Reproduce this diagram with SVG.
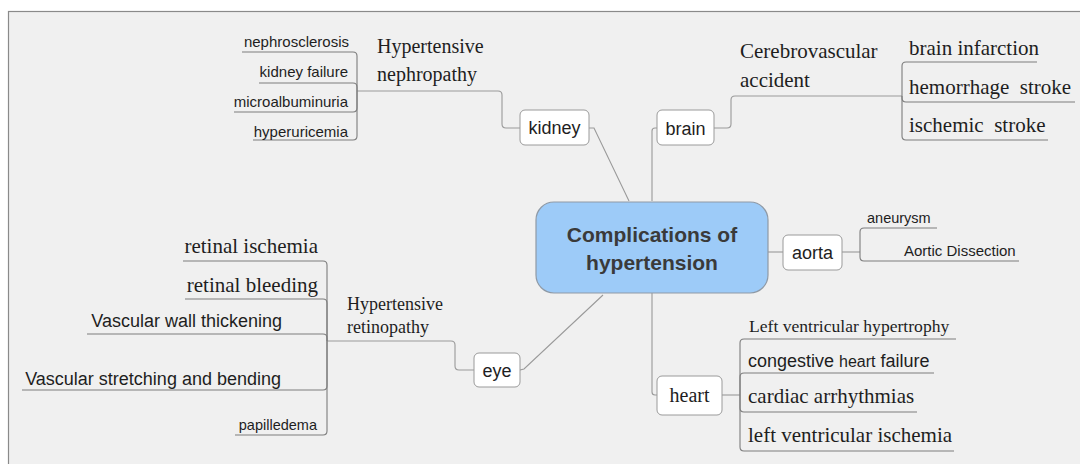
<svg xmlns="http://www.w3.org/2000/svg" width="1080" height="464" viewBox="0 0 1080 464">
  <style>
    .frame { fill: #f0f0f0; stroke: #8a8a8a; stroke-width: 1.2; }
    .box { fill: #ffffff; stroke: #9a9a9a; stroke-width: 1; }
    .root { fill: #9dcbf8; stroke: #8f9aa6; stroke-width: 1.2; }
    .link { fill: none; stroke: #9a9a9a; stroke-width: 1.1; }
    .under { fill: none; stroke: #7d7d7d; stroke-width: 1.1; }
    .sans { font-family: "Liberation Sans", Arial, sans-serif; fill: #1e1e1e; }
    .serif { font-family: "Liberation Serif", "Times New Roman", serif; fill: #1e1e1e; }
    .title { font-family: "Liberation Sans", Arial, sans-serif; font-weight: bold; font-size: 21px; fill: #3a3a3a; }
    .pre { white-space: pre; }
  </style>

  <!-- canvas -->
  <rect class="frame" x="8.5" y="11.5" width="1100" height="500"/>

  <!-- connectors -->
  <g id="connectors">
    <!-- root to main topics -->
    <path class="link" d="M589,128 H594 L629,201"/>
    <path class="link" d="M657,128 H655 Q652,128 652,131 V201"/>
    <path class="link" d="M768,252 H783"/>
    <path class="link" d="M652,292 V392 Q652,395 655,395 H657"/>
    <path class="link" d="M520,370 L524,369 L603,295"/>

    <!-- kidney branch -->
    <path class="link" d="M520,128 H506 Q502,128 502,124 V95 Q502,91 498,91 H357"/>
    <path class="under" d="M357,91 V56 Q357,52 353,52 H242"/>
    <path class="under" d="M357,91 V87 Q357,83 353,83 H259"/>
    <path class="under" d="M357,91 V108 Q357,112 353,112 H234"/>
    <path class="under" d="M357,91 V136 Q357,140 353,140 H253"/>

    <!-- brain branch -->
    <path class="link" d="M714,128 H727 Q731,128 731,124 V100 Q731,96 735,96 H902"/>
    <path class="under" d="M902,96 V66 Q902,62 906,62 H1037"/>
    <path class="under" d="M902,96 V98 Q902,102 906,102 H1075"/>
    <path class="under" d="M902,96 V136 Q902,140 906,140 H1048"/>

    <!-- aorta branch -->
    <path class="link" d="M842,252 H860"/>
    <path class="under" d="M860,252 V232 Q860,228 864,228 H937"/>
    <path class="under" d="M860,252 V257 Q860,261 864,261 H1019"/>

    <!-- heart branch -->
    <path class="link" d="M722,395 H740"/>
    <path class="under" d="M740,395 V343 Q740,339 744,339 H956"/>
    <path class="under" d="M740,395 V377 Q740,373 744,373 H934"/>
    <path class="under" d="M740,395 V408 Q740,412 744,412 H917"/>
    <path class="under" d="M740,395 V447 Q740,451 744,451 H954"/>

    <!-- eye branch -->
    <path class="link" d="M474,370 H459 Q455,370 455,366 V345 Q455,341 451,341 H327"/>
    <path class="under" d="M327,341 V265 Q327,261 323,261 H183"/>
    <path class="under" d="M327,341 V303 Q327,299 323,299 H185"/>
    <path class="under" d="M327,341 V338 Q327,334 323,334 H87"/>
    <path class="under" d="M327,341 V386 Q327,390 323,390 H22"/>
    <path class="under" d="M327,341 V431 Q327,435 323,435 H235"/>
  </g>

  <!-- central topic -->
  <g id="root">
    <rect class="root" x="536" y="202" width="232" height="91" rx="18"/>
    <text class="title" x="652" y="242" text-anchor="middle">Complications of</text>
    <text class="title" x="652" y="270" text-anchor="middle">hypertension</text>
  </g>

  <!-- kidney -->
  <g id="kidney">
    <rect class="box" x="520" y="110" width="69" height="35" rx="5"/>
    <text class="sans" x="554.5" y="134" font-size="18" text-anchor="middle">kidney</text>
  </g>
  <g id="kidney-nephropathy">
    <text class="serif" x="377" y="53" font-size="20">Hypertensive</text>
    <text class="serif" x="377" y="81" font-size="20">nephropathy</text>
  </g>
  <g id="kidney-items" class="sans" font-size="15" text-anchor="end">
    <text class="sans" x="349" y="47">nephrosclerosis</text>
    <text class="sans" x="348" y="77">kidney failure</text>
    <text class="sans" x="348" y="107">microalbuminuria</text>
    <text class="sans" x="348" y="137">hyperuricemia</text>
  </g>

  <!-- brain -->
  <g id="brain">
    <rect class="box" x="657" y="110" width="57" height="35" rx="5"/>
    <text class="sans" x="685.5" y="135" font-size="18" text-anchor="middle">brain</text>
  </g>
  <g id="brain-cva">
    <text class="serif" x="740" y="58" font-size="21">Cerebrovascular</text>
    <text class="serif" x="740" y="87" font-size="21">accident</text>
  </g>
  <g id="brain-items" font-size="21">
    <text class="serif" x="909" y="55">brain infarction</text>
    <text class="serif pre" x="909" y="94" xml:space="preserve">hemorrhage  stroke</text>
    <text class="serif pre" x="909" y="132" xml:space="preserve">ischemic  stroke</text>
  </g>

  <!-- aorta -->
  <g id="aorta">
    <rect class="box" x="783" y="235" width="59" height="35" rx="5"/>
    <text class="sans" x="812.5" y="259" font-size="18" text-anchor="middle">aorta</text>
  </g>
  <g id="aorta-items">
    <text class="sans" x="867" y="223" font-size="14.5">aneurysm</text>
    <text class="sans" x="904" y="256" font-size="15">Aortic Dissection</text>
  </g>

  <!-- heart -->
  <g id="heart">
    <rect class="box" x="657" y="376" width="65" height="39" rx="5"/>
    <text class="serif" x="689.5" y="402" font-size="20" text-anchor="middle">heart</text>
  </g>
  <g id="heart-items">
    <text class="serif" x="749" y="332" font-size="17.6">Left ventricular hypertrophy</text>
    <text class="sans" x="748" y="367" font-size="18">congestive <tspan font-size="16">heart</tspan> failure</text>
    <text class="serif" x="748" y="403" font-size="21">cardiac arrhythmias</text>
    <text class="serif" x="748" y="442" font-size="21">left ventricular ischemia</text>
  </g>

  <!-- eye -->
  <g id="eye">
    <rect class="box" x="474" y="353" width="46" height="34" rx="5"/>
    <text class="sans" x="497" y="377" font-size="18" text-anchor="middle">eye</text>
  </g>
  <g id="eye-retinopathy">
    <text class="serif" x="347" y="310" font-size="18">Hypertensive</text>
    <text class="serif" x="347" y="333" font-size="18">retinopathy</text>
  </g>
  <g id="eye-items" text-anchor="end">
    <text class="serif" x="318" y="253" font-size="21">retinal ischemia</text>
    <text class="serif" x="318" y="292" font-size="21">retinal bleeding</text>
    <text class="sans" x="282" y="327" font-size="18">Vascular wall thickening</text>
    <text class="sans" x="281" y="385" font-size="18">Vascular stretching and bending</text>
    <text class="sans" x="317" y="430" font-size="14.5">papilledema</text>
  </g>
</svg>
